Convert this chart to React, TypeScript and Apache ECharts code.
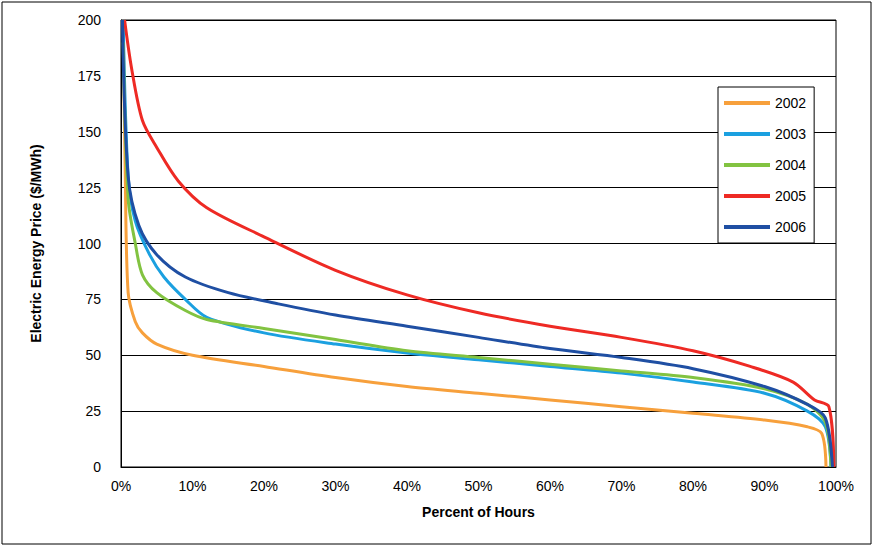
import React, { useEffect, useRef } from "react";
import * as echarts from "echarts";

const years = ["2002", "2003", "2004", "2005", "2006"];
const colors = ["#f7a03c", "#1ba0e0", "#82c341", "#ee2a24", "#1f4fa3"];

const s2002 = [[0.3, 200], [0.6, 130], [1, 78], [2, 65], [3, 60], [5, 55], [10, 50], [20, 45], [30, 40], [40, 36], [50, 33], [60, 30], [70, 27], [80, 24], [90, 21], [96, 18], [98, 15], [98.6, 0]];
const s2003 = [[0.3, 200], [1, 130], [2, 110], [4, 95], [6, 85], [9, 75], [12, 67], [20, 60], [30, 55], [40, 51], [50, 48], [60, 45], [70, 42], [80, 38], [90, 33], [96, 25], [98.5, 18], [99.3, 0]];
const s2004 = [[0.3, 190], [1, 120], [2, 100], [3, 86], [5, 78], [9, 70], [12, 66], [20, 62], [30, 57], [40, 52], [50, 49], [60, 46], [70, 43], [80, 40], [90, 35], [96, 28], [98.5, 20], [99.3, 0]];
const s2005 = [[0.5, 200], [1.5, 178], [3, 155], [5, 143], [8, 128], [12, 116], [20, 103], [30, 88], [40, 77], [50, 69], [60, 63], [70, 58], [80, 52], [88, 45], [94, 38], [97, 30], [99, 27], [99.7, 0]];
const s2006 = [[0.2, 200], [1, 130], [2.5, 108], [5, 95], [9, 85], [15, 78], [22, 73], [30, 68], [40, 63], [50, 58], [60, 53], [70, 49], [80, 44], [90, 36], [96, 28], [98.5, 22], [99.5, 0]];
const seriesData = [s2002, s2003, s2004, s2005, s2006];
const yTicks = [0, 25, 50, 75, 100, 125, 150, 175, 200];

export default function App() {
  const ref = useRef<HTMLDivElement>(null);
  useEffect(() => {
    const chart = echarts.init(ref.current, null, { renderer: "svg" });
    const font = "Liberation Sans, Arial, sans-serif";
    chart.setOption({
      animation: false,
      textStyle: { fontFamily: font },
      graphic: [
        { type: "rect", shape: { x: 2, y: 2, width: 869, height: 542 }, style: { fill: "none", stroke: "#000", lineWidth: 1 } },
      ],
      grid: { left: 121, right: 38, top: 20, bottom: 80, show: true, borderColor: "#000", borderWidth: 1 },
      legend: {
        data: years,
        orient: "vertical",
        left: 718,
        top: 87,
        padding: [9, 8, 9, 6],
        itemGap: 17,
        itemWidth: 46,
        itemHeight: 4,
        icon: "rect",
        backgroundColor: "#fff",
        borderColor: "#000",
        borderWidth: 1,
        borderRadius: 0,
        textStyle: { fontSize: 14, color: "#000", fontFamily: font },
      },
      xAxis: {
        type: "value",
        min: 0,
        max: 100,
        interval: 10,
        name: "Percent of Hours",
        nameLocation: "middle",
        nameGap: 38,
        nameTextStyle: { fontWeight: "bold", fontSize: 14, color: "#000" },
        axisLine: { lineStyle: { color: "#000" } },
        axisTick: { show: false },
        axisLabel: { formatter: "{value}%", fontSize: 14, color: "#000", margin: 12 },
        splitLine: { show: false },
      },
      yAxis: {
        type: "value",
        min: 0,
        max: 200,
        interval: 25,
        name: "Electric Energy Price ($/MWh)",
        nameLocation: "middle",
        nameGap: 78,
        nameTextStyle: { fontWeight: "bold", fontSize: 14, color: "#000" },
        axisLine: { show: true, lineStyle: { color: "#000" } },
        axisTick: { show: false },
        axisLabel: { fontSize: 14, color: "#000", margin: 20, formatter: (v: number) => (yTicks.includes(v) ? String(v) : "") },
        splitLine: { lineStyle: { color: "#000", width: 1 } },
      },
      series: years.map((y, i) => ({
        name: y,
        type: "line",
        smooth: 0.3,
        symbol: "none",
        data: seriesData[i],
        itemStyle: { color: colors[i] },
        lineStyle: { color: colors[i], width: 3 },
      })),
    });
    return () => chart.dispose();
  }, []);
  return <div ref={ref} style={{ position: "fixed", left: 0, top: 0, width: 874, height: 547, background: "#fff" }} />;
}
